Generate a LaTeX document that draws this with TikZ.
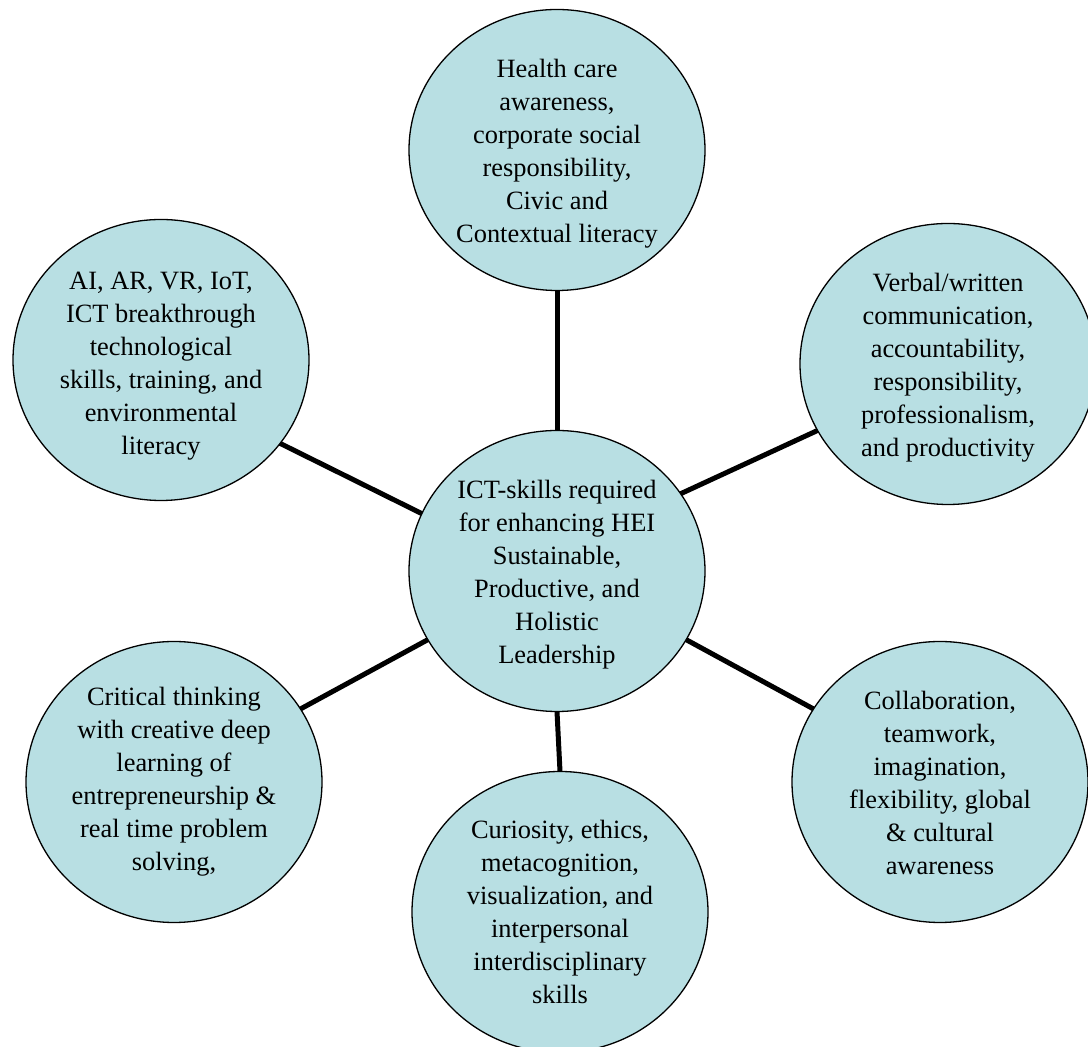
\documentclass[tikz,border=0pt]{standalone}
\usepackage{fontspec}
\setmainfont{Liberation Serif}
\usetikzlibrary{shapes.geometric}
\definecolor{bubfill}{HTML}{B8DFE3}
\tikzset{
  bub/.style={ellipse, draw=black, line width=1.3pt, fill=bubfill,
    minimum width=296pt, minimum height=281pt, inner sep=0pt, outer sep=0pt},
  txt/.style={align=center, inner sep=0pt, font=\fontsize{26.4}{33}\selectfont},
  link/.style={draw=black, line width=5pt}
}
\begin{document}
\begin{tikzpicture}[x=1pt,y=1pt]
\useasboundingbox (0,0) rectangle (1088,1047);
\node[bub] (c)  at (557,476) {};
\node[bub] (t)  at (557,897) {};
\node[bub] (tl) at (161,687) {};
\node[bub] (tr) at (948,683) {};
\node[bub] (bl) at (174,265) {};
\node[bub] (br) at (940,265) {};
\node[bub] (b)  at (560,135) {};
\node[txt] (ct)  at ([yshift=-4pt]c.center)  {ICT-skills required\\for enhancing HEI\\Sustainable,\\Productive, and\\Holistic\\Leadership};
\node[txt] (tt)  at ([yshift=-4pt]t.center)  {Health care\\awareness,\\corporate social\\responsibility,\\Civic and\\Contextual literacy};
\node[txt] (tlt) at ([yshift=-6pt]tl.center) {AI, AR, VR, IoT,\\ICT breakthrough\\technological\\skills, training, and\\environmental\\literacy};
\node[txt] (trt) at ([yshift=-4pt]tr.center) {Verbal/written\\communication,\\accountability,\\responsibility,\\professionalism,\\and productivity};
\node[txt] (blt) at (bl) {Critical thinking\\with creative deep\\learning of\\entrepreneurship \&\\real time problem\\solving,};
\node[txt] (brt) at ([yshift=-1pt]br.center) {Collaboration,\\teamwork,\\imagination,\\flexibility, global\\\& cultural\\awareness};
\node[txt] (bt)  at (b)  {Curiosity, ethics,\\metacognition,\\visualization, and\\interpersonal\\interdisciplinary\\skills};
\draw[link] (c.90) -- (t.-90);
\draw[link] (c.-90) -- (b.90);
\draw[link] (c.157) -- (tl.-35.7);
\draw[link] (c.32.7) -- (tr.207.4);
\draw[link] (c.208.9) -- (bl.30);
\draw[link] (c.-28.1) -- (br.150.4);
\end{tikzpicture}
\end{document}
